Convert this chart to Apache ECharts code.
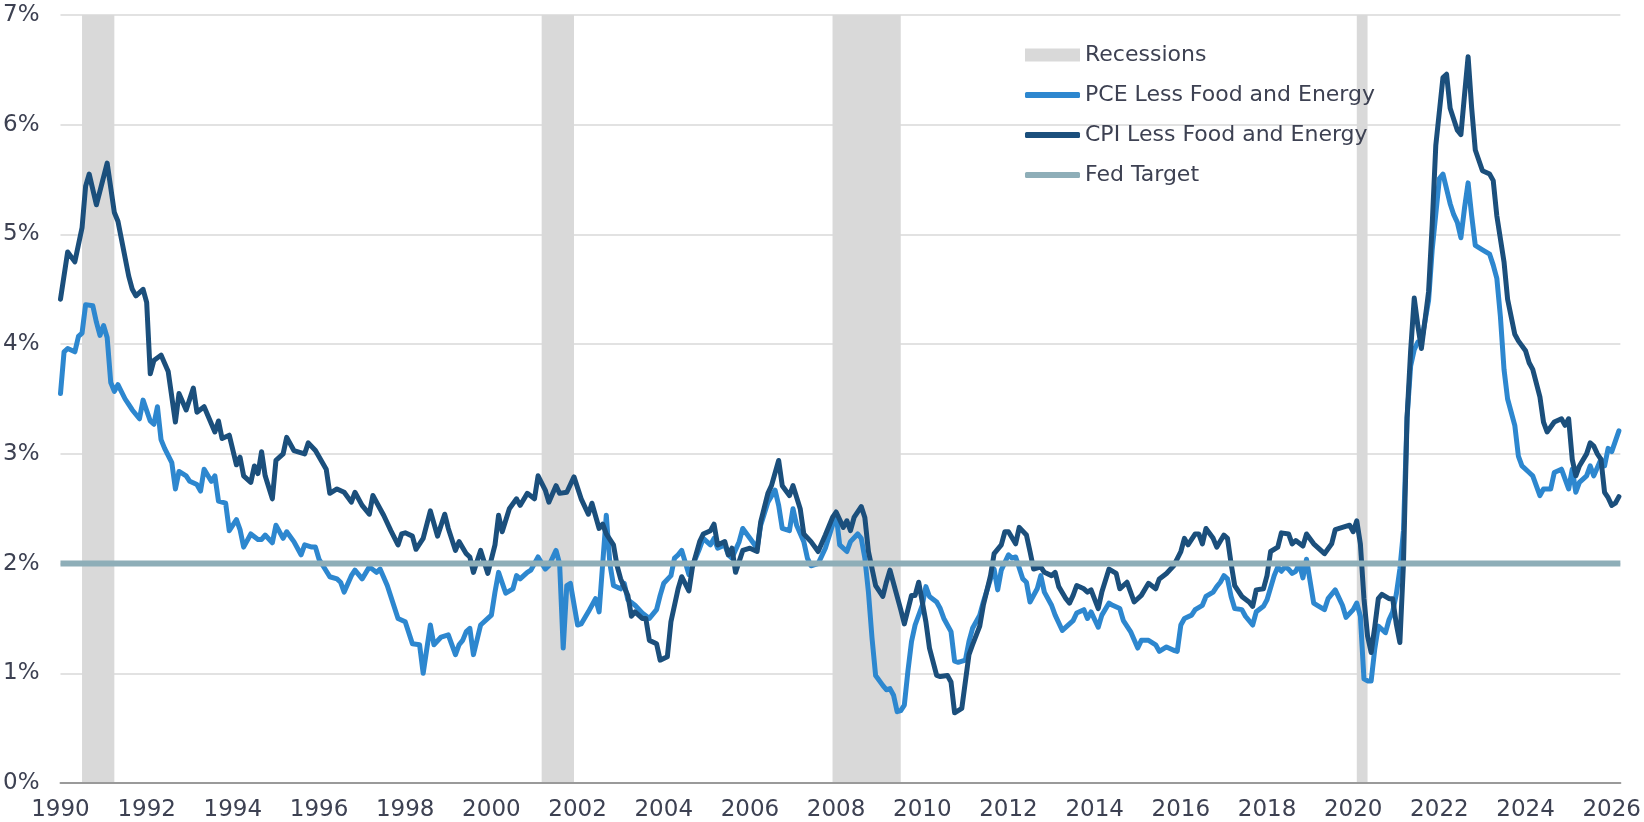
<!DOCTYPE html>
<html>
<head>
    <meta charset="utf-8">
    <title>Core inflation</title>
    <script src="https://cdn.jsdelivr.net/npm/echarts@6/dist/echarts.min.js"></script>
    <style>
        html, body { margin: 0; padding: 0; background: #fff; }
    </style>
</head>
<body>
<div id="main" style="width: 1644px;height:822px;"></div>
<script type="text/javascript">
    // values, year-over-year %, [month, value]
    var pce = [
        ['1990-01',3.55],['1990-02',3.93],['1990-03',3.96],['1990-05',3.93],['1990-06',4.07],['1990-07',4.1],
        ['1990-08',4.36],['1990-10',4.35],['1990-11',4.2],['1990-12',4.08],['1991-01',4.17],['1991-02',4.06],
        ['1991-03',3.65],['1991-04',3.57],['1991-05',3.63],['1991-07',3.5],['1991-08',3.45],['1991-09',3.4],
        ['1991-11',3.32],['1991-12',3.49],['1992-02',3.3],['1992-03',3.27],['1992-04',3.43],['1992-05',3.13],
        ['1992-06',3.05],['1992-08',2.92],['1992-09',2.68],['1992-10',2.84],['1992-12',2.8],['1993-01',2.75],
        ['1993-03',2.72],['1993-04',2.66],['1993-05',2.86],['1993-07',2.75],['1993-08',2.8],['1993-09',2.57],
        ['1993-11',2.55],['1993-12',2.3],['1994-02',2.4],['1994-03',2.31],['1994-04',2.15],['1994-06',2.27],
        ['1994-08',2.22],['1994-09',2.22],['1994-10',2.26],['1994-12',2.19],['1995-01',2.35],['1995-03',2.23],
        ['1995-04',2.29],['1995-06',2.2],['1995-08',2.08],['1995-09',2.17],['1995-11',2.15],['1995-12',2.15],
        ['1996-01',2.04],['1996-04',1.88],['1996-06',1.86],['1996-07',1.83],['1996-08',1.74],['1996-10',1.89],
        ['1996-11',1.94],['1997-01',1.86],['1997-03',1.97],['1997-05',1.92],['1997-06',1.95],['1997-08',1.8],
        ['1997-11',1.5],['1998-01',1.47],['1998-03',1.27],['1998-05',1.26],['1998-06',1.0],['1998-08',1.44],
        ['1998-09',1.26],['1998-11',1.33],['1999-01',1.35],['1999-03',1.17],['1999-04',1.26],['1999-05',1.3],
        ['1999-06',1.38],['1999-07',1.41],['1999-08',1.17],['1999-10',1.44],['1999-12',1.5],['2000-01',1.53],
        ['2000-02',1.74],['2000-03',1.92],['2000-05',1.73],['2000-07',1.77],['2000-08',1.89],['2000-09',1.86],
        ['2000-11',1.92],['2000-12',1.94],['2001-02',2.06],['2001-04',1.95],['2001-05',1.98],['2001-07',2.12],
        ['2001-08',2.0],['2001-09',1.23],['2001-10',1.8],['2001-11',1.82],['2002-01',1.44],['2002-02',1.45],
        ['2002-04',1.56],['2002-06',1.68],['2002-07',1.56],['2002-09',2.44],['2002-10',2.0],['2002-11',1.8],
        ['2003-01',1.77],['2003-02',1.82],['2003-03',1.67],['2003-05',1.62],['2003-07',1.55],['2003-09',1.5],
        ['2003-11',1.58],['2003-12',1.71],['2004-01',1.82],['2004-03',1.89],['2004-04',2.05],['2004-05',2.08],
        ['2004-06',2.12],['2004-08',1.9],['2004-09',1.98],['2004-11',2.14],['2004-12',2.23],['2005-02',2.17],
        ['2005-03',2.23],['2005-04',2.14],['2005-06',2.17],['2005-07',2.08],['2005-08',2.05],['2005-10',2.2],
        ['2005-11',2.32],['2006-01',2.23],['2006-03',2.14],['2006-04',2.35],['2006-06',2.56],['2006-08',2.67],
        ['2006-09',2.53],['2006-10',2.32],['2006-12',2.3],['2007-01',2.5],['2007-02',2.35],['2007-04',2.2],
        ['2007-05',2.05],['2007-06',1.98],['2007-08',2.0],['2007-10',2.14],['2007-12',2.35],['2008-01',2.45],
        ['2008-02',2.17],['2008-04',2.11],['2008-05',2.2],['2008-07',2.27],['2008-08',2.23],['2008-09',2.05],
        ['2008-10',1.74],['2008-11',1.32],['2008-12',0.98],['2009-02',0.89],['2009-03',0.85],['2009-04',0.86],
        ['2009-05',0.8],['2009-06',0.65],['2009-07',0.66],['2009-08',0.71],['2009-09',1.02],['2009-10',1.29],
        ['2009-11',1.44],['2010-01',1.62],['2010-02',1.79],['2010-03',1.7],['2010-05',1.65],['2010-06',1.59],
        ['2010-07',1.5],['2010-09',1.38],['2010-10',1.11],['2010-11',1.1],['2011-01',1.12],['2011-02',1.29],
        ['2011-03',1.41],['2011-05',1.53],['2011-06',1.65],['2011-08',1.86],['2011-09',1.95],['2011-10',1.76],
        ['2011-11',1.94],['2012-01',2.08],['2012-02',2.05],['2012-03',2.06],['2012-05',1.86],['2012-06',1.83],
        ['2012-07',1.65],['2012-09',1.77],['2012-10',1.89],['2012-11',1.74],['2013-01',1.62],['2013-02',1.53],
        ['2013-04',1.39],['2013-05',1.42],['2013-07',1.48],['2013-08',1.55],['2013-10',1.58],['2013-11',1.5],
        ['2013-12',1.56],['2014-02',1.42],['2014-03',1.53],['2014-05',1.64],['2014-06',1.62],['2014-08',1.59],
        ['2014-09',1.48],['2014-11',1.38],['2015-01',1.23],['2015-02',1.3],['2015-04',1.3],['2015-06',1.26],
        ['2015-07',1.2],['2015-09',1.24],['2015-11',1.21],['2015-12',1.2],['2016-01',1.44],['2016-02',1.5],
        ['2016-04',1.53],['2016-05',1.58],['2016-07',1.62],['2016-08',1.7],['2016-10',1.74],['2016-11',1.79],
        ['2016-12',1.83],['2017-01',1.89],['2017-02',1.86],['2017-03',1.7],['2017-04',1.59],['2017-06',1.58],
        ['2017-07',1.52],['2017-09',1.44],['2017-10',1.56],['2017-12',1.61],['2018-01',1.67],['2018-03',1.89],
        ['2018-04',1.97],['2018-05',1.93],['2018-06',1.97],['2018-07',1.95],['2018-08',1.91],['2018-09',1.93],
        ['2018-10',2.0],['2018-11',1.87],['2018-12',2.04],['2019-02',1.64],['2019-03',1.62],['2019-05',1.58],
        ['2019-06',1.68],['2019-08',1.76],['2019-10',1.62],['2019-11',1.51],['2020-01',1.58],['2020-02',1.64],
        ['2020-03',1.52],['2020-04',0.95],['2020-05',0.93],['2020-06',0.93],['2020-07',1.22],['2020-08',1.43],
        ['2020-10',1.37],['2020-11',1.49],['2020-12',1.56],['2021-01',1.72],['2021-02',1.95],['2021-03',2.3],
        ['2021-04',3.33],['2021-05',3.8],['2021-06',3.95],['2021-07',4.02],['2021-08',4.02],['2021-10',4.4],
        ['2021-11',4.86],['2022-01',5.51],['2022-02',5.55],['2022-04',5.28],['2022-05',5.18],['2022-06',5.11],
        ['2022-07',4.97],['2022-08',5.24],['2022-09',5.47],['2022-10',5.17],['2022-11',4.9],['2023-01',4.86],
        ['2023-03',4.82],['2023-04',4.72],['2023-05',4.6],['2023-06',4.25],['2023-07',3.77],['2023-08',3.5],
        ['2023-10',3.26],['2023-11',2.98],['2023-12',2.89],['2024-02',2.83],['2024-03',2.8],['2024-05',2.62],
        ['2024-06',2.68],['2024-08',2.68],['2024-09',2.83],['2024-11',2.86],['2025-01',2.68],['2025-02',2.86],
        ['2025-03',2.65],['2025-04',2.74],['2025-06',2.8],['2025-07',2.89],['2025-08',2.8],['2025-10',2.95],
        ['2025-11',2.89],['2025-12',3.05],['2026-01',3.02],['2026-03',3.21]
    ];
    var cpi = [
        ['1990-01',4.41],['1990-03',4.84],['1990-05',4.75],['1990-07',5.06],['1990-08',5.44],['1990-09',5.55],
        ['1990-11',5.27],['1991-02',5.65],['1991-04',5.2],['1991-05',5.12],['1991-08',4.62],['1991-09',4.5],
        ['1991-10',4.44],['1991-12',4.5],['1992-01',4.38],['1992-02',3.73],['1992-03',3.85],['1992-05',3.9],
        ['1992-07',3.75],['1992-09',3.29],['1992-10',3.55],['1992-12',3.4],['1993-02',3.6],['1993-03',3.38],
        ['1993-05',3.43],['1993-08',3.2],['1993-09',3.3],['1993-10',3.14],['1993-12',3.17],['1994-02',2.9],
        ['1994-03',2.97],['1994-04',2.8],['1994-06',2.74],['1994-07',2.89],['1994-08',2.82],['1994-09',3.02],
        ['1994-10',2.8],['1994-12',2.59],['1995-01',2.94],['1995-03',3.0],['1995-04',3.15],['1995-06',3.03],
        ['1995-09',3.0],['1995-10',3.1],['1995-12',3.03],['1996-03',2.86],['1996-04',2.64],['1996-06',2.68],
        ['1996-08',2.65],['1996-10',2.56],['1996-11',2.65],['1997-01',2.53],['1997-03',2.45],['1997-04',2.62],
        ['1997-06',2.5],['1997-07',2.44],['1997-09',2.3],['1997-11',2.17],['1997-12',2.27],['1998-01',2.28],
        ['1998-03',2.25],['1998-04',2.13],['1998-06',2.23],['1998-08',2.48],['1998-10',2.25],['1998-12',2.45],
        ['1999-01',2.32],['1999-03',2.12],['1999-04',2.2],['1999-06',2.09],['1999-07',2.06],['1999-08',1.92],
        ['1999-10',2.12],['1999-12',1.91],['2000-02',2.17],['2000-03',2.44],['2000-04',2.29],['2000-06',2.5],
        ['2000-08',2.59],['2000-09',2.53],['2000-11',2.64],['2001-01',2.59],['2001-02',2.8],['2001-04',2.67],
        ['2001-05',2.56],['2001-07',2.71],['2001-08',2.64],['2001-10',2.65],['2001-12',2.79],['2002-02',2.59],
        ['2002-04',2.45],['2002-05',2.55],['2002-07',2.32],['2002-08',2.36],['2002-09',2.27],['2002-11',2.17],
        ['2002-12',1.98],['2003-01',1.86],['2003-03',1.71],['2003-04',1.52],['2003-05',1.56],['2003-07',1.5],
        ['2003-08',1.5],['2003-09',1.3],['2003-11',1.27],['2003-12',1.12],['2004-02',1.15],['2004-03',1.47],
        ['2004-05',1.77],['2004-06',1.88],['2004-08',1.75],['2004-09',1.97],['2004-11',2.2],['2004-12',2.27],
        ['2005-02',2.3],['2005-03',2.36],['2005-04',2.17],['2005-06',2.2],['2005-07',2.08],['2005-08',2.14],
        ['2005-09',1.92],['2005-11',2.12],['2006-01',2.14],['2006-03',2.11],['2006-04',2.38],['2006-06',2.64],
        ['2006-07',2.71],['2006-09',2.94],['2006-10',2.71],['2006-12',2.62],['2007-01',2.71],['2007-03',2.5],
        ['2007-04',2.27],['2007-06',2.2],['2007-08',2.11],['2007-10',2.26],['2007-12',2.42],['2008-01',2.47],
        ['2008-03',2.33],['2008-04',2.39],['2008-05',2.3],['2008-06',2.42],['2008-08',2.52],['2008-09',2.42],
        ['2008-10',2.11],['2008-12',1.8],['2009-02',1.7],['2009-03',1.83],['2009-04',1.94],['2009-05',1.82],
        ['2009-07',1.58],['2009-08',1.45],['2009-10',1.71],['2009-11',1.71],['2009-12',1.83],['2010-02',1.47],
        ['2010-03',1.23],['2010-05',0.98],['2010-06',0.97],['2010-08',0.98],['2010-09',0.92],['2010-10',0.64],
        ['2010-12',0.68],['2011-02',1.17],['2011-03',1.26],['2011-05',1.43],['2011-06',1.62],['2011-08',1.89],
        ['2011-09',2.09],['2011-11',2.17],['2011-12',2.29],['2012-01',2.29],['2012-03',2.18],['2012-04',2.33],
        ['2012-06',2.26],['2012-07',2.11],['2012-08',1.95],['2012-10',1.97],['2012-11',1.92],['2013-01',1.89],
        ['2013-02',1.92],['2013-03',1.79],['2013-05',1.68],['2013-06',1.64],['2013-07',1.71],['2013-08',1.8],
        ['2013-10',1.77],['2013-11',1.74],['2013-12',1.76],['2014-02',1.59],['2014-03',1.74],['2014-05',1.95],
        ['2014-07',1.91],['2014-08',1.77],['2014-10',1.83],['2014-12',1.65],['2015-02',1.71],['2015-04',1.82],
        ['2015-06',1.77],['2015-07',1.86],['2015-09',1.91],['2015-11',1.98],['2016-01',2.11],['2016-02',2.23],
        ['2016-03',2.17],['2016-05',2.27],['2016-06',2.27],['2016-07',2.18],['2016-08',2.32],['2016-10',2.23],
        ['2016-11',2.15],['2017-01',2.26],['2017-02',2.23],['2017-03',2.0],['2017-04',1.8],['2017-06',1.7],
        ['2017-08',1.65],['2017-09',1.61],['2017-10',1.76],['2017-12',1.77],['2018-01',1.89],['2018-02',2.11],
        ['2018-04',2.15],['2018-05',2.28],['2018-07',2.27],['2018-08',2.18],['2018-09',2.21],['2018-11',2.16],
        ['2018-12',2.27],['2019-02',2.18],['2019-04',2.12],['2019-05',2.09],['2019-07',2.18],['2019-08',2.31],
        ['2019-10',2.33],['2019-12',2.35],['2020-01',2.29],['2020-02',2.39],['2020-03',2.18],['2020-04',1.68],
        ['2020-05',1.34],['2020-06',1.19],['2020-07',1.42],['2020-08',1.68],['2020-09',1.72],['2020-11',1.68],
        ['2020-12',1.68],['2021-01',1.45],['2021-02',1.28],['2021-03',2.0],['2021-04',3.33],['2021-05',3.94],
        ['2021-06',4.42],['2021-07',4.17],['2021-08',3.96],['2021-10',4.48],['2021-11',5.09],['2021-12',5.81],
        ['2022-02',6.43],['2022-03',6.46],['2022-04',6.15],['2022-06',5.95],['2022-07',5.91],['2022-08',6.27],
        ['2022-09',6.62],['2022-10',6.15],['2022-11',5.77],['2023-01',5.58],['2023-03',5.55],['2023-04',5.49],
        ['2023-05',5.17],['2023-07',4.75],['2023-08',4.41],['2023-10',4.09],['2023-11',4.03],['2024-01',3.94],
        ['2024-02',3.83],['2024-03',3.77],['2024-05',3.52],['2024-06',3.29],['2024-07',3.2],['2024-09',3.29],
        ['2024-11',3.32],['2024-12',3.26],['2025-01',3.32],['2025-02',2.95],['2025-03',2.8],['2025-04',2.89],
        ['2025-06',3.0],['2025-07',3.1],['2025-08',3.07],['2025-09',3.0],['2025-10',2.95],['2025-11',2.65],
        ['2025-12',2.6],['2026-01',2.53],['2026-02',2.55],['2026-03',2.61]
    ];
    // NBER recessions, first and last month
    var recessions = [
        ['1990-07', '1991-03'],
        ['2001-03', '2001-11'],
        ['2007-12', '2009-06'],
        ['2020-02', '2020-04']
    ];
    var fedTarget = 2;
    var yTicks = [0, 1, 2, 3, 4, 5, 6, 7];
    var xStart = 1990, xEnd = 2026.2, xStep = 2;

    // 'YYYY-MM' -> decimal year
    function toYear(s) {
        var p = s.split('-');
        return +p[0] + (+p[1] - 1) / 12;
    }
    function toXY(arr) {
        return arr.map(function (d) { return [toYear(d[0]), d[1]]; });
    }

    var textColor = '#3d4152';
    var font = 'DejaVu Sans';
    var legendText = { color: textColor, fontSize: 22, fontFamily: font, lineHeight: 22 };

    var myChart = echarts.init(document.getElementById('main'));
    myChart.setOption({
        animation: false,
        backgroundColor: '#ffffff',
        grid: { left: 60, right: 20, top: 15, bottom: 39 },
        legend: [
            {
                // grey box for recessions
                orient: 'vertical',
                left: 1020,
                top: 39,
                itemWidth: 55,
                itemHeight: 13,
                textStyle: legendText,
                data: [{ name: 'Recessions', icon: 'rect' }]
            },
            {
                // thick rounded bars for the lines
                orient: 'vertical',
                left: 1020,
                top: 79,
                itemWidth: 55,
                itemHeight: 6,
                itemGap: 18,
                textStyle: legendText,
                data: [
                    { name: 'PCE Less Food and Energy', icon: 'roundRect' },
                    { name: 'CPI Less Food and Energy', icon: 'roundRect' },
                    { name: 'Fed Target', icon: 'roundRect' }
                ]
            }
        ],
        xAxis: {
            type: 'value',
            min: xStart,
            max: xEnd,
            interval: xStep,
            z: 5,
            axisLine: { show: true, onZero: false, lineStyle: { color: '#9a9a9a', width: 2 } },
            axisTick: { show: false },
            splitLine: { show: false },
            axisLabel: {
                color: textColor,
                fontSize: 23,
                fontFamily: font,
                margin: 16,
                showMaxLabel: false,
                formatter: function (v) { return v % 1 === 0 ? String(v) : ''; }
            }
        },
        yAxis: {
            type: 'value',
            min: yTicks[0],
            max: yTicks[yTicks.length - 1],
            interval: 1,
            axisLine: { show: false },
            axisTick: { show: false },
            splitLine: { lineStyle: { color: '#d9d9d9', width: 1.5 } },
            axisLabel: {
                color: textColor,
                fontSize: 23,
                fontFamily: font,
                margin: 21,
                formatter: '{value}%'
            }
        },
        series: [
            {
                name: 'Recessions',
                type: 'line',
                data: [],
                itemStyle: { color: '#d9d9d9' },
                markArea: {
                    silent: true,
                    itemStyle: { color: '#d9d9d9', opacity: 1 },
                    data: recessions.map(function (r) {
                        return [{ xAxis: toYear(r[0]) }, { xAxis: toYear(r[1]) + 1 / 12 }];
                    })
                }
            },
            {
                name: 'PCE Less Food and Energy',
                type: 'line',
                showSymbol: false,
                symbol: 'none',
                data: toXY(pce),
                itemStyle: { color: '#2d87cf' },
                lineStyle: { color: '#2d87cf', width: 5, cap: 'round', join: 'round' }
            },
            {
                name: 'CPI Less Food and Energy',
                type: 'line',
                showSymbol: false,
                symbol: 'none',
                data: toXY(cpi),
                itemStyle: { color: '#1b4f7c' },
                lineStyle: { color: '#1b4f7c', width: 5, cap: 'round', join: 'round' }
            },
            {
                name: 'Fed Target',
                type: 'line',
                showSymbol: false,
                symbol: 'none',
                data: [[xStart, fedTarget], [xEnd, fedTarget]],
                itemStyle: { color: '#8eaeb8' },
                lineStyle: { color: '#8eaeb8', width: 6 }
            }
        ]
    });
</script>
</body>
</html>
